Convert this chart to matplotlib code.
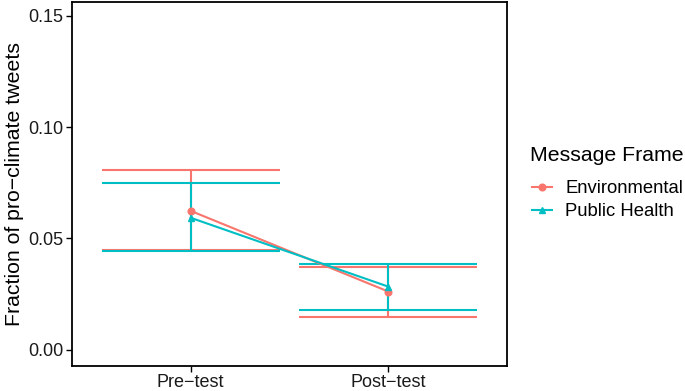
import matplotlib
matplotlib.use("Agg")
import matplotlib.pyplot as plt
from matplotlib.lines import Line2D

plt.rcParams['font.family'] = ['Liberation Sans', 'DejaVu Sans']

phases = ["Pre\u2212test", "Post\u2212test"]
frames = ["Environmental", "Public Health"]
env_mean = [0.0624, 0.0262]
env_low = [0.0449, 0.0150]
env_high = [0.0809, 0.0374]
ph_mean = [0.0593, 0.0284]
ph_low = [0.0445, 0.0178]
ph_high = [0.0750, 0.0385]

colors = ["#F8766D", "#00BFC4"]
markers = ["o", "^"]

fig = plt.figure(figsize=(6.85, 3.91), dpi=100)
ax = fig.add_axes([72/685, (391-366)/391, (507-72)/685, (366-2)/391])

x = [0, 1]
series = [(env_mean, env_low, env_high), (ph_mean, ph_low, ph_high)]
hw = 0.45
lw = 1.5
for (m, lo, hi), c, mk in zip(series, colors, markers):
    ax.vlines(x, lo, hi, color=c, lw=lw, zorder=2)
    ax.hlines(lo, [xi - hw for xi in x], [xi + hw for xi in x], color=c, lw=lw, zorder=2)
    ax.hlines(hi, [xi - hw for xi in x], [xi + hw for xi in x], color=c, lw=lw, zorder=2)
for (m, lo, hi), c, mk in zip(series, colors, markers):
    ax.plot(x, m, color=c, lw=lw, marker=mk, markersize=4.8, zorder=3)

ax.set_xlim(-0.6, 1.6)
ax.set_ylim(-0.0072, 0.1561)
ax.set_xticks(x)
ax.set_xticklabels(phases)
ax.set_yticks([0.0, 0.05, 0.10, 0.15])
ax.set_yticklabels(["0.00", "0.05", "0.10", "0.15"])
ax.tick_params(axis='both', labelsize=13, colors='black', length=4, width=1, pad=2)
ax.tick_params(axis='x', pad=1.5)
ax.tick_params(axis='both', labelcolor='#1a1a1a')
for s in ax.spines.values():
    s.set_linewidth(1.3)
    s.set_color('black')
ax.set_ylabel("Fraction of pro\u2212climate tweets", fontsize=15.3, labelpad=3)

fig.text(530/685, 1 - 155/391, "Message Frame", fontsize=15.3, ha='left', va='center', color='black')
handles = [Line2D([0], [0], color=c, lw=lw, marker=mk, markersize=4.8) for c, mk in zip(colors, markers)]
leg = fig.legend(handles, frames, loc='upper left', bbox_to_anchor=(532/685, 1 - 180/391),
                 frameon=False, fontsize=13.3,
                 handlelength=1.1, handletextpad=0.7, labelspacing=0.35, borderaxespad=0,
                 borderpad=0)

fig.savefig("out.png", dpi=100)
